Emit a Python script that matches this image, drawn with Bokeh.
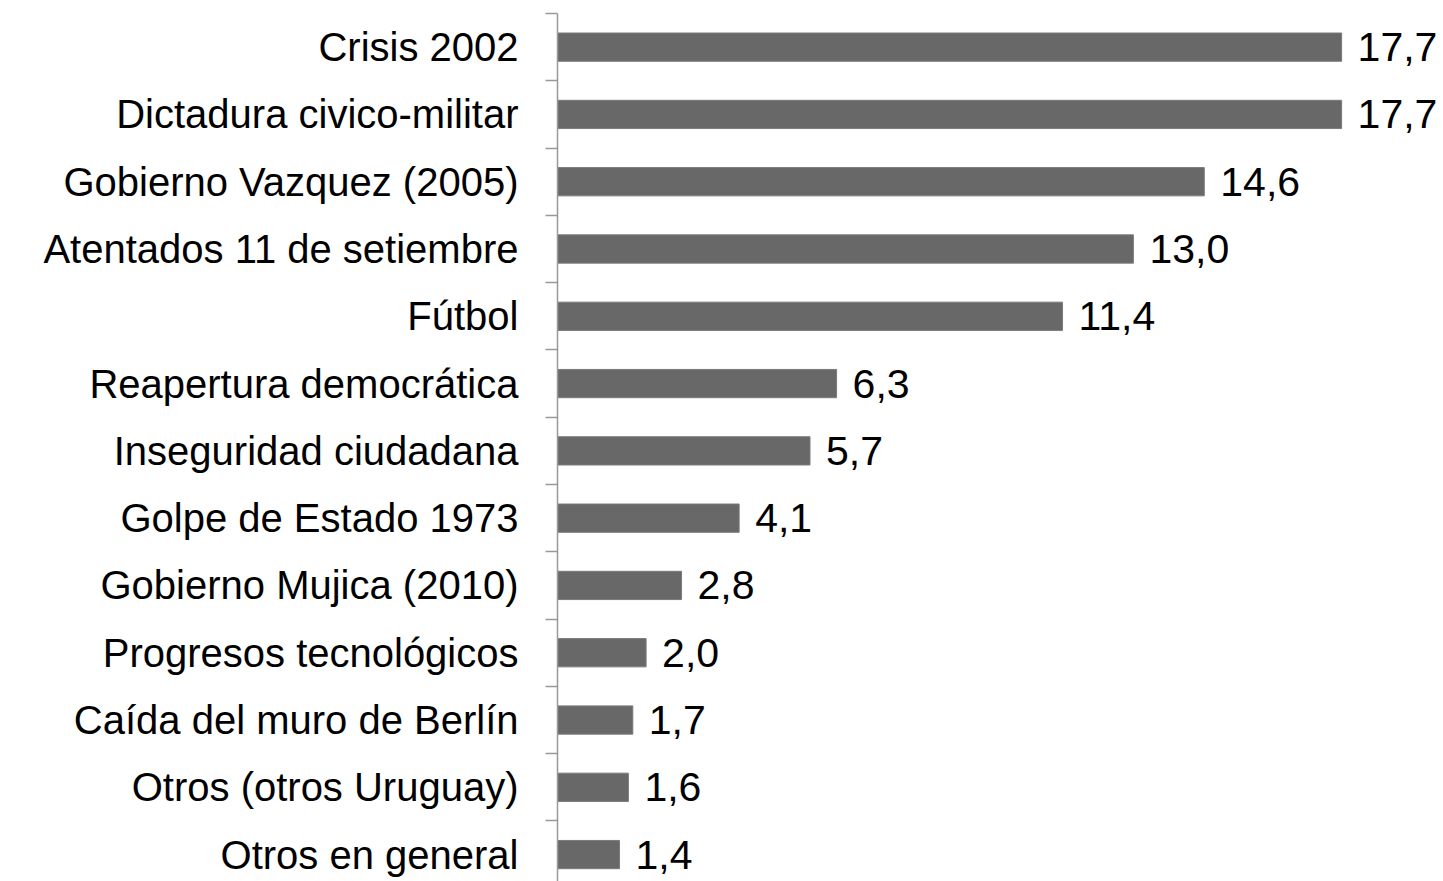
from bokeh.plotting import figure
from bokeh.models import ColumnDataSource, Range1d, FixedTicker
from bokeh.core.properties import value
from bokeh.embed import file_html
from bokeh.resources import INLINE

categories = [
    "Crisis 2002",
    "Dictadura civico-militar",
    "Gobierno Vazquez (2005)",
    "Atentados 11 de setiembre",
    "Fútbol",
    "Reapertura democrática",
    "Inseguridad ciudadana",
    "Golpe de Estado 1973",
    "Gobierno Mujica (2010)",
    "Progresos tecnológicos",
    "Caída del muro de Berlín",
    "Otros (otros Uruguay)",
    "Otros en general",
]
values = [17.7, 17.7, 14.6, 13.0, 11.4, 6.3, 5.7, 4.1, 2.8, 2.0, 1.7, 1.6, 1.4]

n = len(categories)
ypos = [n - 1 - i for i in range(n)]
labels = [f"{v:.1f}".replace(".", ",") for v in values]

src = ColumnDataSource(dict(y=ypos, v=values, lab=labels, cat=categories))

p = figure(width=1443, height=881, output_backend="svg", toolbar_location=None,
           x_range=Range1d(0, 20), y_range=Range1d(-0.4, n - 0.5),
           min_border_left=557, min_border_right=0, min_border_top=13,
           min_border_bottom=0, x_axis_location=None)
p.outline_line_color = None
p.xgrid.visible = False
p.ygrid.visible = False
p.background_fill_color = "white"
p.border_fill_color = "white"

p.hbar(y="y", right="v", left=0, height=0.42, source=src,
       fill_color="#686868", line_color="#7a7a7a", line_width=1)

p.text(x="v", y="y", text="lab", source=src, x_offset=16,
       text_baseline="middle", text_align="left",
       text_font=value("Liberation Sans"), text_font_size="41px",
       text_color="black")

ax = p.yaxis[0]
ax.ticker = FixedTicker(ticks=ypos, minor_ticks=[y + 0.5 for y in ypos])
ax.major_label_overrides = {y: c for y, c in zip(ypos, categories)}
ax.major_tick_out = 0
ax.major_tick_in = 0
ax.minor_tick_out = 12
ax.minor_tick_in = 0
ax.axis_line_color = "#999999"
ax.axis_line_width = 1.5
ax.minor_tick_line_color = "#999999"
ax.minor_tick_line_width = 1.5
ax.major_label_text_font = "Liberation Sans"
ax.major_label_text_font_size = "40px"
ax.major_label_text_color = "black"
ax.major_label_standoff = 27

open("out.html", "w").write(file_html(p, INLINE))
